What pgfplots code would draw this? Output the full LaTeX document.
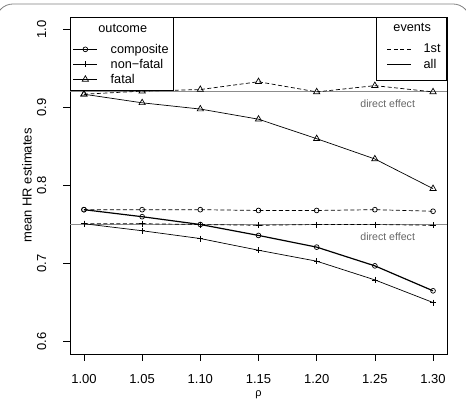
\documentclass[border=0pt]{standalone}
\usepackage{fontspec}
\setmainfont{Liberation Sans}
\usepackage{pgfplots}
\pgfplotsset{compat=1.18}

% legend image codes; the invisible paths fix the row heights
\pgfplotsset{
  outimg/.style={legend image code/.code={\path[draw=none,fill=none] (0pt,-7.5pt) rectangle (27pt,7.5pt);
    \draw[mark repeat=2,mark phase=2,##1] plot coordinates {(3pt,0pt)(15pt,0pt)(27pt,0pt)};}},
  outtitle/.style={legend image code/.code={\path[draw=none,fill=none] (0pt,-12.5pt) rectangle (1pt,8pt);}},
  evimg/.style={legend image code/.code={\path[draw=none,fill=none] (0pt,-7.5pt) rectangle (35pt,7.5pt);
    \draw[##1] (11pt,0pt) -- (35pt,0pt);}},
  evimglast/.style={legend image code/.code={\path[draw=none,fill=none] (0pt,-12pt) rectangle (35pt,7.5pt);
    \draw[##1] (11pt,0pt) -- (35pt,0pt);}},
  evtitle/.style={legend image code/.code={\path[draw=none,fill=none] (0pt,-13.5pt) rectangle (1pt,7pt);}},
}

\begin{document}
\begin{tikzpicture}
% page extent
\path (-70pt,-48pt) rectangle (396pt,354pt);
% outer frame, cut at the page edges
\begin{scope}
  \clip (-70pt,-48pt) rectangle (396pt,354pt);
  \draw[black!50, line width=0.8pt, rounded corners=17pt] (-74pt,-90pt) rectangle (400pt,350pt);
\end{scope}

\begin{axis}[
  name=main,
  scale only axis, width=377pt, height=337pt,
  xmin=0.988, xmax=1.312, ymin=0.584, ymax=1.016,
  xtick={1,1.05,1.1,1.15,1.2,1.25,1.3},
  xticklabels={1.00,1.05,1.10,1.15,1.20,1.25,1.30},
  ytick={0.6,0.7,0.8,0.9,1.0},
  yticklabels={0.6,0.7,0.8,0.9,1.0},
  tick pos=left, tick align=outside, major tick length=6.5pt,
  tick style={line width=0.7pt, black},
  axis line style={line width=0.7pt, black},
  tick label style={font=\fontsize{13}{15}\selectfont, inner sep=0pt},
  yticklabel style={rotate=90, anchor=south},
  xticklabel style={anchor=north},
  xticklabel shift=14pt, yticklabel shift=17pt,
  legend style={at={(0,1)}, anchor=north west, draw=black, line width=0.7pt,
    fill=white, inner xsep=0pt, inner ysep=4pt, column sep=13pt, row sep=0pt,
    font=\fontsize{12.7}{14}\selectfont, nodes={inner sep=0pt}},
  legend cell align=left,
  every axis plot/.append style={black, line width=0.7pt},
  firstev/.style={dash pattern=on 4pt off 2.5pt, mark options={solid}},
  mcirc/.style={mark=o, mark size=2.4pt},
  mplus/.style={mark=+, mark size=3pt},
  mtri/.style={mark=triangle, mark size=3.6pt},
]
\addlegendimage{outtitle}
\addlegendentry{\makebox[0pt][l]{\hspace*{-12.8pt}outcome}}
\addlegendimage{outimg, black, line width=0.7pt, mcirc}
\addlegendentry{\makebox[63pt][l]{composite}}
\addlegendimage{outimg, black, line width=0.7pt, mplus}
\addlegendentry{\makebox[63pt][l]{non−fatal}}
\addlegendimage{outimg, black, line width=0.7pt, mtri}
\addlegendentry{\makebox[63pt][l]{fatal}}

% direct effect reference lines
\addplot[forget plot, black!45, line width=0.8pt] coordinates {(0.988,0.92) (1.312,0.92)};
\addplot[forget plot, black!45, line width=0.8pt] coordinates {(0.988,0.75) (1.312,0.75)};

% fatal
\addplot[forget plot, firstev, mtri] coordinates {
  (1.00,0.917) (1.05,0.921) (1.10,0.923) (1.15,0.933) (1.20,0.920) (1.25,0.928) (1.30,0.920)};
\addplot[forget plot, mtri] coordinates {
  (1.00,0.917) (1.05,0.906) (1.10,0.898) (1.15,0.885) (1.20,0.860) (1.25,0.834) (1.30,0.796)};

% composite
\addplot[forget plot, firstev, mcirc] coordinates {
  (1.00,0.769) (1.05,0.769) (1.10,0.769) (1.15,0.768) (1.20,0.768) (1.25,0.769) (1.30,0.767)};
\addplot[forget plot, mcirc, line width=1.2pt, mark options={line width=0.7pt}] coordinates {
  (1.00,0.769) (1.05,0.760) (1.10,0.750) (1.15,0.736) (1.20,0.721) (1.25,0.697) (1.30,0.665)};

% non-fatal
\addplot[forget plot, firstev, mplus] coordinates {
  (1.00,0.751) (1.05,0.751) (1.10,0.750) (1.15,0.749) (1.20,0.750) (1.25,0.750) (1.30,0.749)};
\addplot[forget plot, mplus] coordinates {
  (1.00,0.751) (1.05,0.742) (1.10,0.732) (1.15,0.717) (1.20,0.703) (1.25,0.679) (1.30,0.650)};

\node[font=\fontsize{10.6}{12}\selectfont, text=black!60] at (axis cs:1.261,0.92) [yshift=-12pt] {direct effect};
\node[font=\fontsize{10.6}{12}\selectfont, text=black!60] at (axis cs:1.261,0.75) [yshift=-12pt] {direct effect};
\end{axis}

% axis titles
\node[font=\fontsize{11}{13}\selectfont, inner sep=0pt] at ([yshift=-41pt]main.south) {ρ};
\node[font=\fontsize{13}{15}\selectfont, inner sep=0pt, rotate=90] at ([xshift=-43pt]main.west) {mean HR estimates};

% second legend: event type
\begin{axis}[
  scale only axis, width=377pt, height=337pt,
  xmin=0, xmax=1, ymin=0, ymax=1, hide axis,
  legend style={at={(1,1)}, anchor=north east, draw=black, line width=0.7pt,
    fill=white, inner xsep=0pt, inner ysep=4pt, column sep=12pt, row sep=0pt,
    font=\fontsize{12.7}{14}\selectfont, nodes={inner sep=0pt}},
  legend cell align=left,
]
\addlegendimage{evtitle}
\addlegendentry{\makebox[0pt][l]{\hspace*{-30.7pt}events}}
\addlegendimage{evimg, black, line width=0.7pt, dash pattern=on 4pt off 2.5pt}
\addlegendentry{\makebox[23pt][l]{1st}}
\addlegendimage{evimglast, black, line width=0.7pt, solid}
\addlegendentry{\makebox[23pt][l]{all}}
\end{axis}
\end{tikzpicture}
\end{document}
